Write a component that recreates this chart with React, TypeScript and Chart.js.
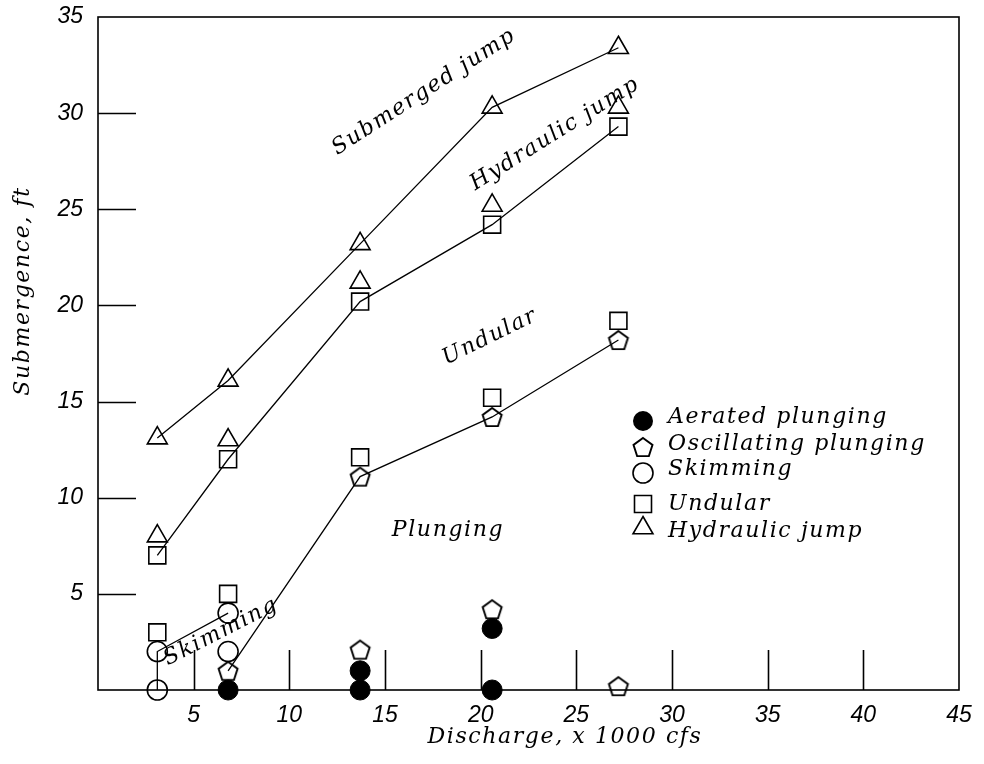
import React, { useEffect, useRef } from 'react';
import { Chart, registerables } from 'chart.js';

Chart.register(...registerables);

// ---- data ----
const xTickLabels = [5, 10, 15, 20, 25, 30, 35, 40, 45];
const yTickLabels = [5, 10, 15, 20, 25, 30, 35];

const aeratedX = [6.8, 13.7, 13.7, 20.6, 20.6];
const aeratedY = [0, 0, 1.0, 0, 3.2];

const oscillatingX = [6.8, 13.7, 13.7, 20.6, 20.6, 27.2, 27.2];
const oscillatingY = [1.0, 2.1, 11.1, 4.2, 14.2, 18.2, 0.2];

const skimmingX = [3.1, 3.1, 6.8, 6.8];
const skimmingY = [0, 2.0, 2.0, 4.0];

const undularX = [3.1, 3.1, 6.8, 6.8, 13.7, 13.7, 20.6, 20.6, 27.2, 27.2];
const undularY = [3.0, 7.0, 5.0, 12.0, 12.1, 20.2, 15.2, 24.2, 19.2, 29.3];

const hydraulicX = [3.1, 3.1, 6.8, 6.8, 13.7, 13.7, 20.6, 20.6, 27.2, 27.2];
const hydraulicY = [8.0, 13.1, 13.0, 16.1, 21.2, 23.2, 25.2, 30.3, 30.3, 33.4];

// region boundary lines
const submergedLineX = [3.1, 6.8, 13.7, 20.6, 27.2];
const submergedLineY = [13.1, 16.1, 23.2, 30.3, 33.4];
const hydraulicLineX = [3.1, 6.8, 13.7, 20.6, 27.2];
const hydraulicLineY = [7.0, 12.0, 20.2, 24.2, 29.3];
const plungingLineX = [6.8, 13.7, 20.6, 27.2];
const plungingLineY = [1.0, 11.1, 14.2, 18.2];
const skimmingLineX = [3.1, 3.1, 6.8];
const skimmingLineY = [0, 2.0, 4.0];

const legendLabels = ['Aerated plunging', 'Oscillating plunging', 'Skimming', 'Undular', 'Hydraulic jump'];
const regionLabels = ['Submerged jump', 'Hydraulic jump', 'Undular', 'Plunging', 'Skimming'];
const xTitle = 'Discharge, x 1000 cfs';
const yTitle = 'Submergence, ft';

const pts = (xs: number[], ys: number[]) => xs.map((x, i) => ({ x, y: ys[i] }));

const SERIF = "italic 22px 'DejaVu Serif', serif";
const LW = 1.6;

function makePentagon(r: number, lw: number): HTMLCanvasElement {
  const s = Math.ceil(2 * r + lw * 2 + 2);
  const c = document.createElement('canvas');
  c.width = s;
  c.height = s;
  const ctx = c.getContext('2d')!;
  ctx.strokeStyle = '#000';
  ctx.lineWidth = lw;
  ctx.beginPath();
  for (let i = 0; i < 5; i++) {
    const a = (-90 + i * 72) * Math.PI / 180;
    const px = s / 2 + r * Math.cos(a);
    const py = s / 2 + 1 + r * Math.sin(a);
    if (i === 0) ctx.moveTo(px, py); else ctx.lineTo(px, py);
  }
  ctx.closePath();
  ctx.stroke();
  return c;
}

function drawSymbol(ctx: CanvasRenderingContext2D, kind: string, x: number, y: number, pent: HTMLCanvasElement) {
  ctx.save();
  ctx.strokeStyle = '#000';
  ctx.fillStyle = '#000';
  ctx.lineWidth = LW;
  ctx.beginPath();
  if (kind === 'filled') {
    ctx.arc(x, y, 10, 0, Math.PI * 2);
    ctx.fill();
  } else if (kind === 'pent') {
    ctx.drawImage(pent, x - pent.width / 2, y - pent.height / 2);
  } else if (kind === 'circle') {
    ctx.arc(x, y, 10, 0, Math.PI * 2);
    ctx.stroke();
  } else if (kind === 'rect') {
    ctx.rect(x - 8.5, y - 8.5, 17, 17);
    ctx.stroke();
  } else if (kind === 'tri') {
    const r = 11.5;
    ctx.moveTo(x, y - r);
    ctx.lineTo(x + r * Math.sin(2 * Math.PI / 3), y - r * Math.cos(2 * Math.PI / 3));
    ctx.lineTo(x + r * Math.sin(4 * Math.PI / 3), y - r * Math.cos(4 * Math.PI / 3));
    ctx.closePath();
    ctx.stroke();
  }
  ctx.restore();
}

export default function App() {
  const ref = useRef<HTMLCanvasElement>(null);

  useEffect(() => {
    const canvas = ref.current!;
    const pent = makePentagon(10, 1.9);

    const decor = {
      id: 'decor',
      beforeDatasetsDraw(chart: any) {
        const { ctx, chartArea: a, scales } = chart;
        ctx.save();
        ctx.strokeStyle = '#000';
        ctx.lineWidth = LW;
        ctx.strokeRect(a.left, a.top, a.right - a.left, a.bottom - a.top);
        ctx.beginPath();
        xTickLabels.forEach((v) => {
          if (v >= 45) return;
          const px = Math.round(scales.x.getPixelForValue(v)) + 0.5;
          ctx.moveTo(px, a.bottom);
          ctx.lineTo(px, a.bottom - 40);
        });
        yTickLabels.forEach((v) => {
          if (v >= 35) return;
          const py = Math.round(scales.y.getPixelForValue(v)) + 0.5;
          ctx.moveTo(a.left, py);
          ctx.lineTo(a.left + 38, py);
        });
        ctx.stroke();
        ctx.restore();
      },
      afterDraw(chart: any) {
        const { ctx } = chart;
        ctx.save();
        ctx.fillStyle = '#000';
        ctx.font = SERIF;
        (ctx as any).letterSpacing = '1.6px';
        const rot = (text: string, x: number, y: number, deg: number) => {
          ctx.save();
          ctx.translate(x, y);
          ctx.rotate(deg * Math.PI / 180);
          ctx.textAlign = 'center';
          ctx.textBaseline = 'middle';
          ctx.fillText(text, 0, 0);
          ctx.restore();
        };
        rot(regionLabels[0], 424, 92, -33);
        rot(regionLabels[1], 555, 134, -32);
        rot(regionLabels[2], 490, 337, -26);
        rot(regionLabels[3], 448, 530, 0);
        rot(regionLabels[4], 221, 632, -27);
        rot(xTitle, 565, 737, 0);
        rot(yTitle, 23, 291, -90);

        // legend
        const kinds = ['filled', 'pent', 'circle', 'rect', 'tri'];
        const symY = [421, 447, 473, 504, 528];
        const txtY = [423, 450, 475, 510, 537];
        ctx.textAlign = 'left';
        ctx.textBaseline = 'alphabetic';
        legendLabels.forEach((t, i) => {
          drawSymbol(ctx, kinds[i], 643, symY[i], pent);
          ctx.fillText(t, 668, txtY[i]);
        });
        ctx.restore();
      },
    };

    const lineDs = (xs: number[], ys: number[]) => ({
      type: 'line' as const,
      data: pts(xs, ys),
      showLine: true,
      borderColor: '#000',
      borderWidth: 1.3,
      pointRadius: 0,
      fill: false,
      tension: 0,
      clip: false,
    });

    const chart = new Chart(canvas, {
      type: 'scatter',
      data: {
        datasets: [
          {
            label: legendLabels[0],
            data: pts(aeratedX, aeratedY),
            pointStyle: 'circle',
            pointRadius: 10,
            backgroundColor: '#000',
            borderColor: '#000',
            borderWidth: 1,
            clip: false,
          },
          {
            label: legendLabels[1],
            data: pts(oscillatingX, oscillatingY),
            pointStyle: pent,
            pointRadius: 10,
            clip: false,
          },
          {
            label: legendLabels[2],
            data: pts(skimmingX, skimmingY),
            pointStyle: 'circle',
            pointRadius: 10,
            backgroundColor: 'rgba(0,0,0,0)',
            borderColor: '#000',
            borderWidth: LW,
            clip: false,
          },
          {
            label: legendLabels[3],
            data: pts(undularX, undularY),
            pointStyle: 'rect',
            pointRadius: 12,
            backgroundColor: 'rgba(0,0,0,0)',
            borderColor: '#000',
            borderWidth: LW,
            clip: false,
          },
          {
            label: legendLabels[4],
            data: pts(hydraulicX, hydraulicY),
            pointStyle: 'triangle',
            pointRadius: 11.5,
            backgroundColor: 'rgba(0,0,0,0)',
            borderColor: '#000',
            borderWidth: LW,
            clip: false,
          },
          lineDs(submergedLineX, submergedLineY),
          lineDs(hydraulicLineX, hydraulicLineY),
          lineDs(plungingLineX, plungingLineY),
          lineDs(skimmingLineX, skimmingLineY),
        ] as any,
      },
      options: {
        animation: false,
        responsive: false,
        devicePixelRatio: 1,
        layout: { padding: { top: 17, right: 25, left: 0, bottom: 0 } },
        plugins: { legend: { display: false }, tooltip: { enabled: false } },
        events: [],
        scales: {
          x: {
            type: 'linear',
            min: 0,
            max: 45,
            grid: { display: false, drawTicks: false },
            border: { display: false },
            afterFit: (s: any) => { s.height = 74; s.paddingLeft = 0; s.paddingRight = 0; },
            ticks: {
              stepSize: 5,
              padding: 12,
              color: '#000',
              font: { family: "'Liberation Sans', Arial, sans-serif", size: 23, style: 'italic' },
              callback: (v: any) => (xTickLabels.includes(Number(v)) ? String(v) : ''),
              maxRotation: 0,
              autoSkip: false,
            },
          },
          y: {
            type: 'linear',
            min: 0,
            max: 35,
            grid: { display: false, drawTicks: false },
            border: { display: false },
            afterFit: (s: any) => { s.width = 98; s.paddingTop = 0; s.paddingBottom = 0; },
            ticks: {
              stepSize: 5,
              padding: 15,
              color: '#000',
              font: { family: "'Liberation Sans', Arial, sans-serif", size: 23, style: 'italic' },
              callback: (v: any) => (yTickLabels.includes(Number(v)) ? String(v) : ''),
            },
          },
        },
      } as any,
      plugins: [decor],
    });

    return () => chart.destroy();
  }, []);

  return (
    <div style={{ position: 'fixed', left: 0, top: 0, width: 984, height: 764, background: '#fff' }}>
      <canvas ref={ref} width={984} height={764} style={{ display: 'block' }} />
    </div>
  );
}
